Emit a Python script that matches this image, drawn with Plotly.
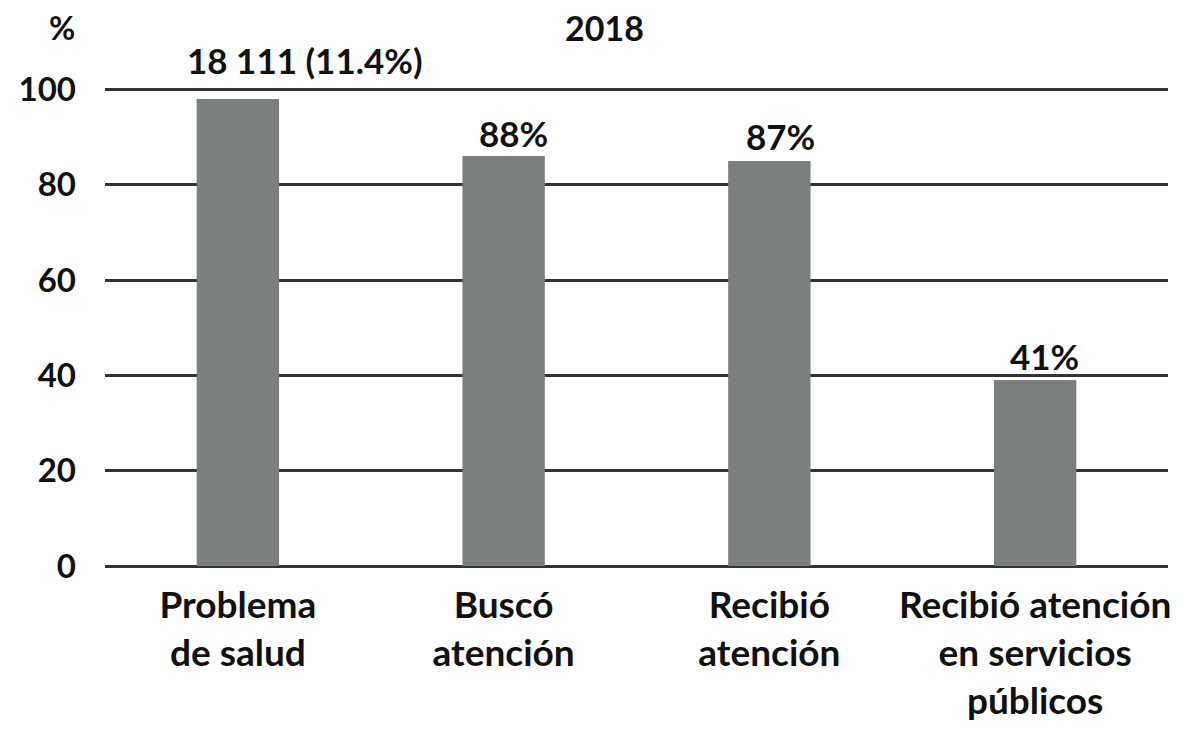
import plotly.graph_objects as go

# data
categories = ['Problema<br>de salud', 'Buscó<br>atención',
              'Recibió<br>atención',
              'Recibió atención<br>en servicios<br>públicos']
values = [98, 86, 85, 39]
bar_labels = ['18 111 (11.4%)', '88%', '87%', '41%']
y_ticks = [0, 20, 40, 60, 80, 100]

FONT = 'Lato'
BAR = '#7b7f7e'
GRID = '#333333'
INK = '#111'

fig = go.Figure()
fig.add_trace(go.Bar(
    x=list(range(len(categories))), y=values,
    marker=dict(color=BAR, line=dict(width=0)),
    width=0.31,
    hoverinfo='skip'))

# value labels above the bars (slightly offset to the right as in the source)
xshifts = [67, 10, 11, 9]
yshifts = [16, 0, 2, 1]
for i, (v, t) in enumerate(zip(values, bar_labels)):
    fig.add_annotation(
        x=i, y=v, text=t, showarrow=False,
        xanchor='center', yanchor='bottom',
        xshift=xshifts[i], yshift=yshifts[i],
        font=dict(family=FONT, size=35, color=INK, weight='bold'))

fig.add_annotation(
    x=-0.04, y=1.124, xref='paper', yref='paper', text='%',
    showarrow=False, xanchor='center', yanchor='middle',
    font=dict(family=FONT, size=32, color=INK, weight='bold'))
fig.add_annotation(
    x=0.47, y=1.124, xref='paper', yref='paper', text='2018',
    showarrow=False, xanchor='center', yanchor='middle',
    font=dict(family=FONT, size=34, color=INK, weight='bold'))

fig.update_layout(
    width=1196, height=736,
    margin=dict(l=97, r=36, t=79, b=178),
    plot_bgcolor='white', paper_bgcolor='white',
    showlegend=False,
    xaxis=dict(
        tickmode='array', tickvals=list(range(len(categories))),
        ticktext=categories, range=[-0.5, 3.5],
        showgrid=False, zeroline=False, showline=False,
        ticks='', ticklabelstandoff=14,
        tickfont=dict(family=FONT, size=37, color=INK, weight='bold')),
    yaxis=dict(
        range=[0, 100.5], tickvals=y_ticks,
        showgrid=True, gridcolor=GRID, gridwidth=2.5,
        zeroline=True, zerolinecolor=GRID, zerolinewidth=2.5,
        showline=False, ticks='', ticklabelstandoff=28,
        tickfont=dict(family=FONT, size=33, color=INK, weight='bold')),
)

fig.write_html('out.html')
